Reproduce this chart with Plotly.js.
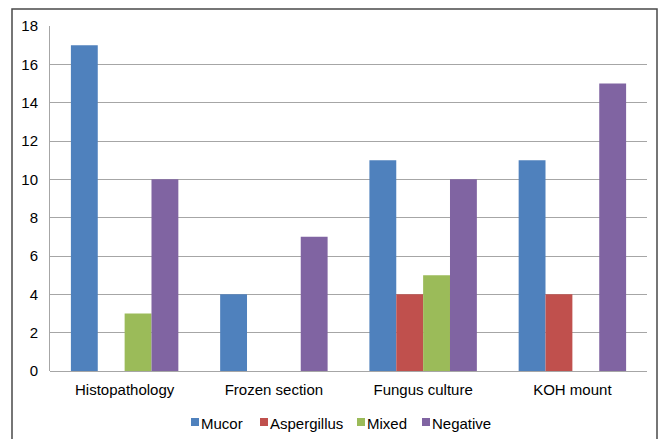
<!DOCTYPE html>
<html>
<head>
<meta charset="utf-8">
<script src="https://cdn.plot.ly/plotly-3.0.1.min.js"></script>
<style>
  html, body { margin: 0; padding: 0; background: #fff; }
  #chart { width: 662px; height: 439px; }
</style>
</head>
<body>
<div id="chart"></div>
<script>
// Diagnostic methods and the number of cases per result
const categories = ["Histopathology", "Frozen section", "Fungus culture", "KOH mount"];
const mucor       = [17, 4, 11, 11];
const aspergillus = [0, 0, 4, 4];
const mixed       = [3, 0, 5, 0];
const negative    = [10, 7, 10, 15];

const yTicks = [0, 2, 4, 6, 8, 10, 12, 14, 16, 18];

const seriesNames  = ["Mucor", "Aspergillus", "Mixed", "Negative"];
const seriesValues = [mucor, aspergillus, mixed, negative];
const seriesColors = ["#4F81BD", "#C0504D", "#9BBB59", "#8064A2"];

// plot box in pixels (used for placing the key row and the frame)
const W = 662, H = 439;
const M = { l: 50, r: 15, t: 26, b: 68 };
const plotW = W - M.l - M.r;
const plotH = H - M.t - M.b;
const px2x = px => (px - M.l) / plotW;
const px2y = py => (H - M.b - py) / plotH;

const traces = seriesNames.map((name, i) => ({
  type: "bar",
  name: name,
  x: categories,
  y: seriesValues[i],
  marker: { color: seriesColors[i], line: { width: 0 } },
  hoverinfo: "x+y+name"
}));

const font = { family: "Liberation Sans, Arial, sans-serif", size: 15, color: "#000" };

// key row below the axis: small square swatch followed by the series name
const keyLeft = [191, 260, 357, 422];
const keyRowY = 423;
const swatch = 8;

const keyShapes = seriesNames.map((name, i) => ({
  type: "rect",
  xref: "paper", yref: "paper",
  x0: px2x(keyLeft[i]), x1: px2x(keyLeft[i] + swatch),
  y0: px2y(keyRowY + swatch / 2 - 1), y1: px2y(keyRowY - swatch / 2 - 1),
  line: { width: 0 },
  fillcolor: seriesColors[i],
  layer: "above"
}));

const keyLabels = seriesNames.map((name, i) => ({
  xref: "paper", yref: "paper",
  x: px2x(keyLeft[i] + swatch + 1),
  y: px2y(keyRowY),
  xanchor: "left",
  yanchor: "middle",
  text: name,
  showarrow: false,
  font: font,
  borderpad: 0
}));

const layout = {
  width: W,
  height: H,
  margin: { l: M.l, r: M.r, t: M.t, b: M.b, autoexpand: false },
  paper_bgcolor: "#fff",
  plot_bgcolor: "#fff",
  font: font,
  barmode: "group",
  bargap: 0.28,
  bargroupgap: 0,
  showlegend: false,
  xaxis: {
    type: "category",
    showgrid: false,
    showline: false,
    zeroline: false,
    ticks: "",
    tickfont: font,
    ticklabelstandoff: 8
  },
  yaxis: {
    range: [0, 18],
    tickvals: yTicks,
    ticktext: yTicks.map(String),
    showgrid: true,
    gridcolor: "#a6a6a6",
    gridwidth: 1,
    zeroline: true,
    zerolinecolor: "#a6a6a6",
    zerolinewidth: 1,
    showline: true,
    linecolor: "#a6a6a6",
    linewidth: 1,
    ticks: "",
    tickfont: font,
    ticklabelstandoff: 8
  },
  annotations: keyLabels,
  shapes: [{
    type: "rect",
    xref: "paper", yref: "paper",
    x0: px2x(12), x1: px2x(657),
    y0: px2y(450), y1: px2y(9),
    line: { color: "#4a4a4a", width: 1.5 },
    fillcolor: "rgba(0,0,0,0)",
    layer: "below"
  }].concat(keyShapes)
};

Plotly.newPlot("chart", traces, layout, { displayModeBar: false, staticPlot: true });
</script>
</body>
</html>
